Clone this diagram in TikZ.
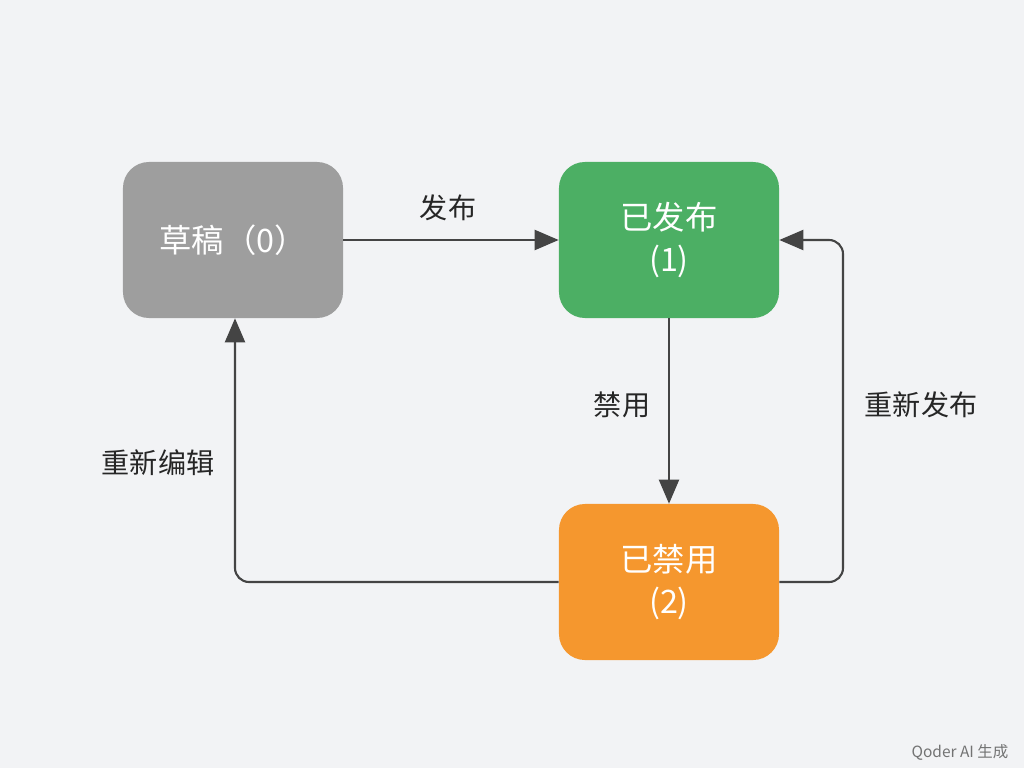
\documentclass[tikz,border=0pt]{standalone}
\usepackage{fontspec}
\setmainfont{Noto Sans CJK SC}
\usetikzlibrary{arrows.meta}
\definecolor{bg}{HTML}{F2F3F5}
\definecolor{draftgray}{HTML}{9E9E9E}
\definecolor{pubgreen}{HTML}{4CAF64}
\definecolor{disorange}{HTML}{F5972E}
\definecolor{linegray}{HTML}{444444}
\tikzset{ state/.style = { rectangle % state box
        , rounded corners = 0.65cm
        , minimum width = 5.5cm
        , minimum height = 3.9cm
        , text = white
        , align = center
        , font = \fontsize{23}{30}\selectfont
        }
        , lbl/.style = { % edge label
        , font = \fontsize{20}{24}\selectfont
        , text = black!85
        }
        , edge_style/.style = { draw = linegray
        , line width = 1.5pt
        , rounded corners = 0.35cm
        , -{Triangle[length=0.6cm,width=0.5cm]}
        }
        }

\begin{document}
\begin{tikzpicture}[x=0.025cm,y=-0.025cm]
        \fill [bg] (0,0) rectangle (1024,768);

        \node [state,fill=draftgray] (draft) at (233,240) {草稿（0）};
        \node [state,fill=pubgreen] (pub) at (669,240) {已发布\\(1)};
        \node [state,fill=disorange] (dis) at (669,582) {已禁用\\(2)};
        \coordinate (c1) at (843,582);
        \coordinate (c2) at (843,240);
        \coordinate (c3) at (235,582);

        \draw [edge_style] (draft) -- (pub);
        \draw [edge_style] (pub) -- (dis);
        \draw [edge_style] (dis.east) -- (c1) -- (c2) -- (pub.east);
        \draw [edge_style] (dis.west) -- (c3) -- (draft.south -| c3);

        \node [lbl] (l1) at (448,208) {发布};
        \node [lbl] (l2) at (622,405) {禁用};
        \node [lbl] (l3) at (921,405) {重新发布};
        \node [lbl] (l4) at (158,463) {重新编辑};
        \node [font=\fontsize{11}{13}\selectfont,text=black!55] (mark) at (960,752) {Qoder AI 生成};
\end{tikzpicture}
\end{document}
